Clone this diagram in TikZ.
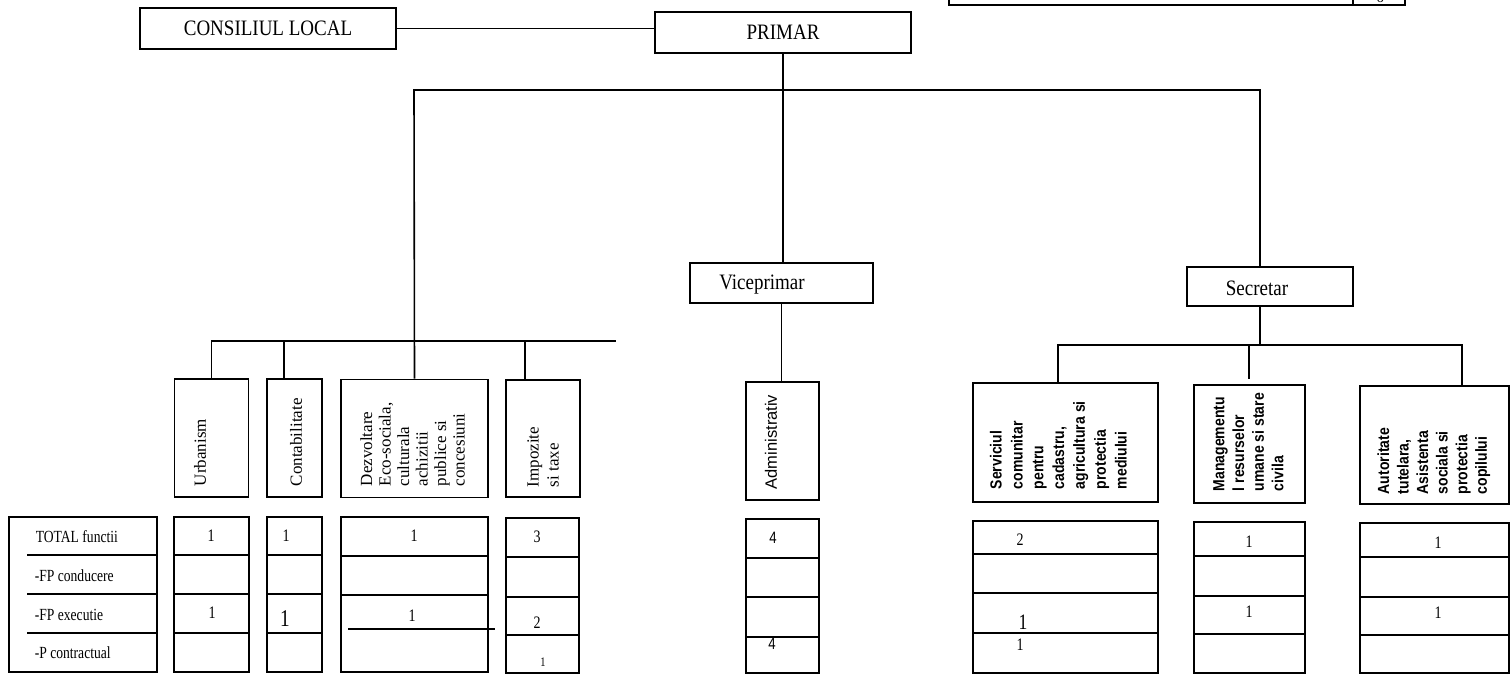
\documentclass[tikz,border=0pt]{standalone}
\usepackage{graphicx}
\usepackage{fontspec}
\setmainfont{Liberation Serif}
\newfontfamily\arialf{Liberation Sans}
\newcommand\myfs[1]{\fontsize{#1}{#1}\selectfont}
\newcommand\myfsl[2]{\fontsize{#1}{#2}\selectfont}
\newcommand\hs[1]{\scalebox{0.8}[1]{#1}}
\newcommand\vt[1]{\scalebox{1}[1.15]{\begin{tabular}{@{}l@{}}#1\end{tabular}}}
\begin{document}
\begin{tikzpicture}[x=1pt,y=-1pt,line width=1.6pt,
  bx/.style={draw, rectangle, inner sep=0pt},
  tx/.style={inner sep=0pt, font=\myfs{17.5}},
  txl/.style={inner sep=0pt, anchor=west, font=\myfs{17}},
  rl/.style={rotate=90, anchor=west, inner sep=0pt, align=left},
  thin/.style={line width=1.1pt}]
\useasboundingbox (0,0) rectangle (1511,676);

% top-right fragment of a table
\draw (949,-4) -- (949,5) -- (1405,5) -- (1405,-4);
\draw (1353,-4) -- (1353,5);
\node[anchor=base, inner sep=0pt, font=\myfs{15}] (trn) at (1380,2.5) {6};

% top level
\node[bx, minimum width=256pt, minimum height=41pt, font=\myfs{20}] (cons) at (268,28.5) {\scalebox{0.95}[1.1]{CONSILIUL LOCAL}};
\node[bx, minimum width=256pt, minimum height=41pt, font=\myfs{20}] (primar) at (783,32.5) {\scalebox{0.95}[1.1]{PRIMAR}};
\draw (cons.east) -- (cons.east -| primar.west);

\node[bx, minimum width=183pt, minimum height=40pt] (vice) at (781.5,283) {};
\node[inner sep=0pt, font=\myfs{20}] (vicet) at (762,285) {\scalebox{0.95}[1.1]{Viceprimar}};
\node[bx, minimum width=166pt, minimum height=39pt] (sec) at (1270,286.5) {};
\node[inner sep=0pt, font=\myfs{20}] (sect) at (1257,288) {\scalebox{0.95}[1.1]{Secretar}};

% label boxes
\node[bx, minimum width=74pt, minimum height=118pt] (urb) at (211.5,438) {};
\node[bx, minimum width=55pt, minimum height=118pt] (cont) at (294.5,438) {};
\node[bx, minimum width=147pt, minimum height=118pt] (dezv) at (414.5,438.5) {};
\node[bx, minimum width=74pt, minimum height=117pt] (imp) at (543,438.5) {};
\node[bx, minimum width=73pt, minimum height=118pt] (adm) at (782.5,441) {};
\node[bx, minimum width=185pt, minimum height=119pt] (serv) at (1065.5,442.5) {};
\node[bx, minimum width=111pt, minimum height=118pt] (man) at (1249.5,444) {};
\node[bx, minimum width=149pt, minimum height=118pt] (aut) at (1434.5,445) {};

% rotated labels
\node[rl, font=\myfs{17}] (urbt) at (200,487) {Urbanism};
\node[rl, font=\myfs{17}] (contt) at (296,487) {Contabilitate};
\node[rl, font=\myfsl{17}{18.5}] (dezvt) at (412.5,487) {Dezvoltare\\Eco-sociala,\\culturala\\achizitii\\publice si\\concesiuni};
\node[rl, font=\myfsl{17}{20}] (impt) at (543,488) {Impozite\\si taxe};
\node[rl, font=\arialf\myfs{16.5}] (admt) at (771,490) {Administrativ};
\node[rl, font=\arialf\bfseries\myfsl{14}{18.1}] (servt) at (1060,490) {\vt{Serviciul\\comunitar\\pentru\\cadastru,\\agricultura si\\protectia\\mediului}};
\node[rl, font=\arialf\bfseries\myfsl{14}{17.1}] (mant) at (1250,492) {\vt{Managementu\\l resurselor\\umane si stare\\civila}};
\node[rl, font=\arialf\bfseries\myfsl{14}{17}] (autt) at (1434,495) {\vt{Autoritate\\tutelara,\\Asistenta\\sociala si\\protectia\\copilului}};

% connectors
\coordinate (busL) at (414,90);
\coordinate (busR) at (1260,90);
\draw[line width=1.3pt] (primar.south) -- (primar.south |- vice.north);
\draw[thin] (vice.south) -- (vice.south |- adm.north);
\draw (dezv.north) -- (busL) -- (busR) -- (busR |- sec.north);

\coordinate (lbR) at (616,341);
\coordinate (cdrop) at (284,341);
\coordinate (idrop) at (525,341);
\draw (urb.north) |- (lbR);
\draw (cdrop) -- (cdrop |- cont.north);
\draw (idrop) -- (idrop |- imp.north);

\coordinate (rbL) at (1058,345);
\coordinate (rbR) at (1462,345);
\coordinate (mdrop) at (1249,345);
\coordinate (mend) at (1249,379);
\draw[line width=1.3pt] (busR |- sec.south) -- (busR |- rbL);
\draw (rbL |- serv.north) -- (rbL) -- (rbR) -- (rbR |- aut.north);
\draw (mdrop) -- (mend);

% tables
\node[bx, minimum width=148pt, minimum height=155pt] (tot) at (83,594.5) {};
\draw (27,555) -- (157,555);
\draw (27,594) -- (157,594);
\draw (27,633) -- (157,633);
\node[txl] (t1) at (35,537) {\hs{TOTAL functii}};
\node[txl] (t2) at (34,576) {\hs{-FP conducere}};
\node[txl] (t3) at (34,615) {\hs{-FP executie}};
\node[txl] (t4) at (34,653) {\hs{-P contractual}};

\node[bx, minimum width=75pt, minimum height=155pt] (urbT) at (211.5,594.5) {};
\draw (174,555) -- (249,555);
\draw (174,594) -- (249,594);
\draw (174,633) -- (249,633);
\node[tx] (u1) at (211,536) {\hs{1}};
\node[tx] (u3) at (212,613) {\hs{1}};

\node[bx, minimum width=55pt, minimum height=155pt] (contT) at (294.5,594.5) {};
\draw (267,555) -- (322,555);
\draw (267,594) -- (322,594);
\draw (267,633) -- (322,633);
\node[tx] (c1) at (286,536) {\hs{1}};
\node[tx, font=\myfs{24}] (c3) at (285,619) {\hs{1}};

\node[bx, minimum width=147pt, minimum height=155pt] (dezvT) at (414.5,594.5) {};
\draw (341,556) -- (488,556);
\draw (341,595) -- (488,595);
\draw (348,629) -- (495,629);
\node[tx] (d1) at (414,536) {\hs{1}};
\node[tx] (d3) at (412,616) {\hs{1}};

\node[bx, minimum width=73pt, minimum height=155pt] (impT) at (542.5,595.5) {};
\draw (506,557) -- (579,557);
\draw (506,597) -- (579,597);
\draw (506,635) -- (579,635);
\node[tx] (i1) at (537,537) {\hs{3}};
\node[tx] (i3) at (537,623) {\hs{2}};
\node[tx, font=\myfs{13}] (i4) at (543,662) {\hs{1}};

\node[bx, minimum width=73pt, minimum height=154pt] (admT) at (782.5,596) {};
\draw (746,558) -- (819,558);
\draw (746,597) -- (819,597);
\draw (746,637) -- (819,637);
\node[tx, font=\arialf\myfs{16.5}] (a1) at (773,538) {\hs{4}};
\node[tx, font=\arialf\myfs{16.5}] (a4) at (772,644) {\hs{4}};

\node[bx, minimum width=185pt, minimum height=152pt] (servT) at (1065.5,597) {};
\draw (973,554) -- (1158,554);
\draw (973,593) -- (1158,593);
\draw (973,633) -- (1158,633);
\node[tx] (s1) at (1020,540) {\hs{2}};
\node[tx, font=\myfs{22}] (s3) at (1023,622) {\hs{1}};
\node[tx] (s4) at (1020,645) {\hs{1}};

\node[bx, minimum width=111pt, minimum height=151pt] (manT) at (1249.5,597.5) {};
\draw (1194,556) -- (1305,556);
\draw (1194,596) -- (1305,596);
\draw (1194,634) -- (1305,634);
\node[tx] (m1) at (1249,542) {\hs{1}};
\node[tx] (m3) at (1249,612) {\hs{1}};

\node[bx, minimum width=149pt, minimum height=150pt] (autT) at (1434.5,598) {};
\draw (1360,557) -- (1509,557);
\draw (1360,597) -- (1509,597);
\draw (1360,635) -- (1509,635);
\node[tx] (au1) at (1438,543) {\hs{1}};
\node[tx] (au3) at (1438,613) {\hs{1}};
\end{tikzpicture}
\end{document}
